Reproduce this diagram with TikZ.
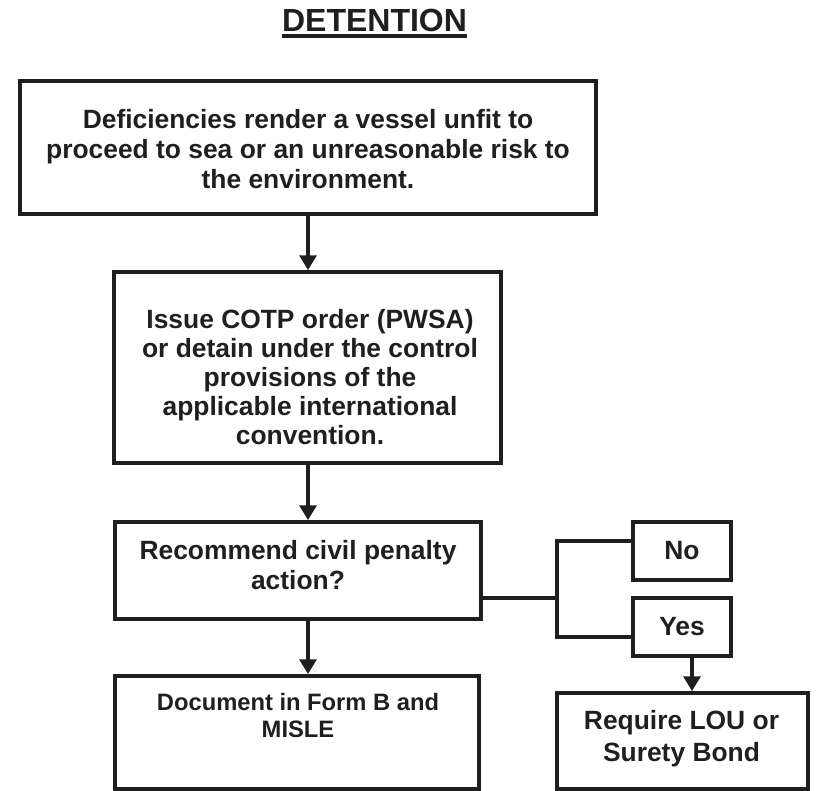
\documentclass[tikz,border=0pt]{standalone}
\usepackage{fontspec}
\setmainfont{Liberation Sans}
\usetikzlibrary{arrows.meta}
\begin{document}
\begin{tikzpicture}[x=0.75pt,y=-0.75pt,
  box/.style={draw=black!88, line width=2.8pt, rectangle, inner sep=0pt},
  txt/.style={align=center, inner sep=0pt, text=black!88, font=\bfseries\fontsize{19.8}{22.5}\selectfont},
  conn/.style={draw=black!88, line width=2.6pt},
  arr/.style={conn, -{Triangle[length=11pt,width=12.5pt]}}]
\useasboundingbox (0,0) rectangle (816,791);

% title
\node[inner sep=0pt, anchor=base, text=black!88, font=\bfseries\fontsize{24}{28}\selectfont] (title) at (374.5,32) {DETENTION};
\draw[black!88, line width=2.6pt] ([yshift=-3pt]title.base west) -- ([yshift=-3pt]title.base east);

% boxes
\node[box, minimum width=432pt, minimum height=99.75pt] (b1) at (308,147.5) {};
\node[box, minimum width=290.25pt, minimum height=143.25pt] (b2) at (307.5,367.5) {};
\node[box, minimum width=274.5pt, minimum height=72.75pt] (b3) at (298,570.5) {};
\node[box, minimum width=273pt, minimum height=84.75pt] (b4) at (297,732.5) {};
\node[box, minimum width=73.5pt, minimum height=43.5pt] (no) at (682,551) {};
\node[box, minimum width=73.5pt, minimum height=43.5pt] (yes) at (682,627) {};
\node[box, minimum width=188.25pt, minimum height=72pt] (req) at (682.5,741) {};

% texts
\node[txt] (t1) at (308,149) {Deficiencies render a vessel unfit to\\proceed to sea or an unreasonable risk to\\the environment.};
\node[txt, font=\bfseries\fontsize{19.8}{21.75}\selectfont] (t2) at (310,377) {Issue COTP order (PWSA)\\or detain under the control\\provisions of the\\applicable international\\convention.};
\node[txt] (t3) at (298,565) {Recommend civil penalty\\action?};
\node[txt, font=\bfseries\fontsize{17.8}{20.25}\selectfont] (t4) at (298,716) {Document in Form B and\\MISLE};
\node[txt] (tno) at (682,551) {No};
\node[txt] (tyes) at (682,627) {Yes};
\node[txt, font=\bfseries\fontsize{19.8}{24}\selectfont] (treq) at (681.5,739) {Require LOU or\\Surety Bond};

% connectors
\draw[arr] (b1.south) -- (b1.south |- b2.north);
\draw[arr] (b1.south |- b2.south) -- (b1.south |- b3.north);
\draw[arr] (b1.south |- b3.south) -- (b1.south |- b4.north);
\draw[arr] ([xshift=7.5pt]yes.south) -- ([xshift=7.5pt]yes.south |- req.north);

\coordinate (j) at (557,598);
\coordinate (jt) at (557,541);
\coordinate (jb) at (557,637);
\draw[conn] (b3.east |- j) -- (j);
\draw[conn, line join=miter] (no.west |- jt) -- (jt) -- (jb) -- (yes.west |- jb);
\end{tikzpicture}
\end{document}
